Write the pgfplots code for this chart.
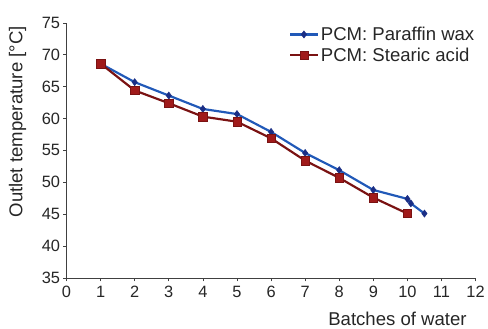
\documentclass[border=0pt]{standalone}
\usepackage{fontspec}
\setmainfont{Liberation Sans}
\usepackage{pgfplots}
\pgfplotsset{compat=1.18}
\definecolor{pblue}{HTML}{2159B8}
\definecolor{pnavy}{HTML}{1A2E85}
\definecolor{sred}{HTML}{7A1212}
\definecolor{sredm}{HTML}{A01A1A}
\begin{document}
\begin{tikzpicture}
\begin{axis}[
  scale only axis,
  width=412bp, height=257bp,
  xmin=0, xmax=12, ymin=35, ymax=75,
  xtick={0,1,...,12}, ytick={35,40,...,75},
  axis lines=left,
  axis line style={-, draw=black!75, line width=0.8pt},
  tick style={draw=black!75, line width=0.6pt},
  tick align=outside,
  major tick length=3.5bp,
  /pgf/number format/assume math mode=true,
  font=\fontsize{18.7bp}{22bp}\selectfont,
  tick label style={font=\fontsize{16.5bp}{19bp}\selectfont, text=black!85},
  x tick label style={yshift=-1.5bp},
  y tick label style={xshift=0.5bp},
  xlabel={Batches of water},
  ylabel={Outlet temperature [°C]},
  every axis x label/.style={at={(rel axis cs:1,0)}, anchor=north east, yshift=-30.5bp, xshift=-5.5bp},
  every axis y label/.style={at={(rel axis cs:0,1)}, anchor=south east, rotate=90, yshift=37bp},
  label style={text=black!85},
  legend style={at={(rel axis cs:0.536,1.0)}, anchor=north west, draw=none, fill=none,
    font=\fontsize{18.7bp}{22bp}\selectfont, row sep=2bp, text=black!85},
  legend image code/.code={\draw[mark repeat=2, mark phase=2, line width=2.2pt] plot coordinates {(0bp,0bp) (14bp,0bp) (28bp,0bp)};},
  legend cell align=left,
  clip=false,
]
\addplot[color=pblue, line width=2.2pt, mark=diamond*, mark size=3.6pt,
  mark options={fill=pnavy, draw=pnavy, line width=0.5pt}] coordinates {
  (1,68.6) (2,65.7) (3,63.6) (4,61.5) (5,60.7) (6,57.9) (7,54.6) (8,51.9) (9,48.8) (10,47.4) (10.1,46.7) (10.5,45.1)
};
\addlegendentry{PCM: Paraffin wax}
\addplot[color=sred, line width=2.2pt, mark=square*, mark size=4.2pt,
  mark options={fill=sredm, draw=sred, line width=0.5pt}] coordinates {
  (1,68.6) (2,64.4) (3,62.4) (4,60.3) (5,59.5) (6,56.9) (7,53.4) (8,50.7) (9,47.6) (10,45.1)
};
\addlegendentry{PCM: Stearic acid}
\end{axis}
\useasboundingbox (-67bp,-47bp) rectangle (421bp,280bp);
\end{tikzpicture}
\end{document}
